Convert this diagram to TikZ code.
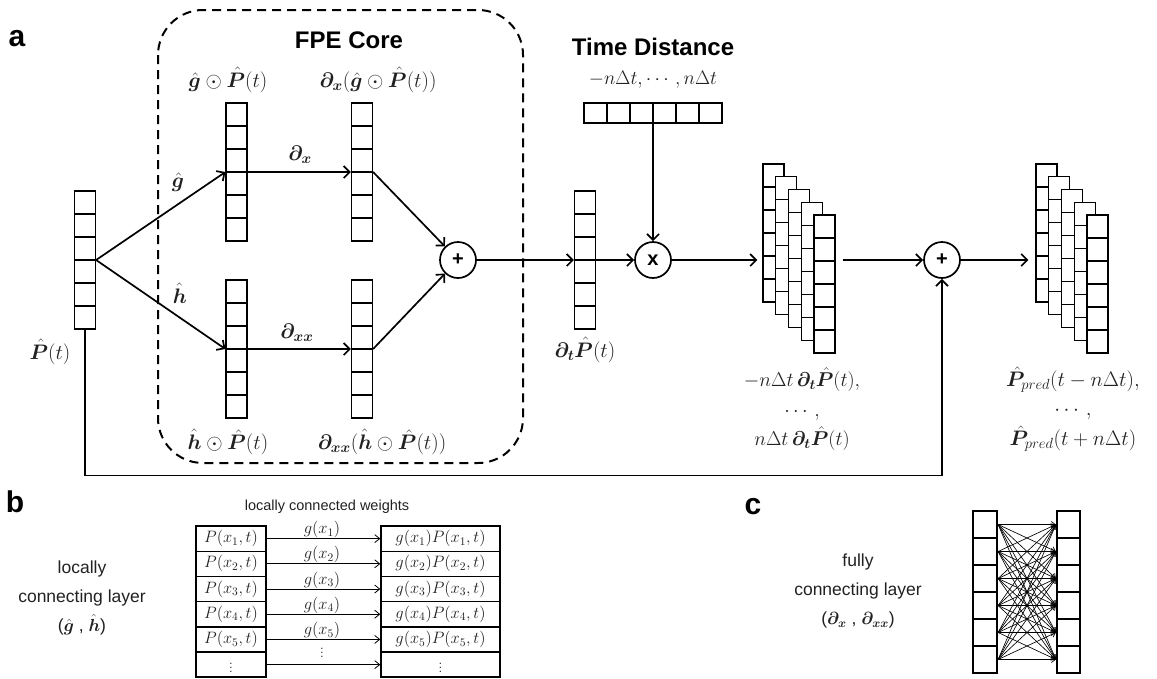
\RequirePackage{fix-cm}
\documentclass[tikz,border=0pt]{standalone}
\usepackage{amsmath,bm}
\usepackage{fontspec}
\setsansfont{Liberation Sans}
\usetikzlibrary{arrows.meta,calc}
\definecolor{txt}{gray}{0.13}
\tikzset{
  arr/.style={line width=1.7pt, -{Straight Barb[length=6pt,width=12pt,line width=1.7pt]}},
  vcol/.style={draw, line width=1.2pt, fill=white, minimum width=21pt, minimum height=138pt, inner sep=0pt,
    path picture={\foreach \i in {1,...,5}{\draw[line width=1.2pt] ([yshift=-\i*23pt]path picture bounding box.north west) -- ++(40pt,0pt);}}},
  hrow/.style={draw, line width=1.2pt, minimum width=138pt, minimum height=20pt, inner sep=0pt,
    path picture={\foreach \i in {1,...,5}{\draw[line width=1.2pt] ([xshift=\i*23pt]path picture bounding box.north west) -- ++(0pt,-40pt);}}},
  op/.style={circle, draw, line width=1.7pt, minimum size=36pt, inner sep=0pt, font=\sffamily\bfseries\fontsize{20}{20}\selectfont},
  lab/.style={font=\fontsize{21}{24}\selectfont, inner sep=0pt, text=txt},
  ttl/.style={font=\sffamily\bfseries\fontsize{24}{26}\selectfont, inner sep=0pt},
  pan/.style={font=\sffamily\bfseries\fontsize{30}{30}\selectfont, inner sep=0pt},
  stxt/.style={font=\sffamily\fontsize{17.5}{29}\selectfont, align=center, inner sep=0pt, text=txt},
  brow/.style={draw, line width=1.4pt, minimum height=25.2pt, inner sep=0pt, font=\fontsize{16.5}{18}\selectfont, text=txt},
  blab/.style={font=\fontsize{16.5}{18}\selectfont, inner sep=0pt, text=txt},
  warr/.style={line width=0.8pt, -{Straight Barb[length=5pt,width=8pt,line width=0.8pt]}},
  ccell/.style={draw, line width=2.2pt, minimum height=27pt, inner sep=0pt},
  fc/.style={line width=0.65pt, -{Straight Barb[length=4pt,width=6pt,line width=0.65pt]}},
}
\begin{document}
\begin{tikzpicture}[x=1pt,y=-1pt]
\useasboundingbox (0,0) rectangle (1157,678);
% ---------------- panel a
\node[pan] (la) at (17,39) {a};
\draw[line width=2pt, dash pattern=on 9pt off 6pt, rounded corners=45pt] (158,10) rectangle (523,463);
\node[ttl] (fpe) at (349,40) {FPE Core};
\node[ttl] (tdt) at (653,47) {Time Distance};

\node[vcol] (in) at (85,260) {};
\node[vcol] (g) at (236.5,172) {};
\node[vcol] (gx) at (362,172) {};
\node[vcol] (h) at (236.5,349) {};
\node[vcol] (hx) at (362,349) {};
\node[op] (p1) at (458,260) {+};
\node[vcol] (dt) at (585,260) {};
\node[op] (xc) at (653,260) {x};
\node[hrow] (td) at (653,113) {};
\foreach \k in {0,...,4}{\node[vcol] (sa\k) at ({773.5+12.75*\k},{233+12.75*\k}) {};}
\node[op] (p2) at (942,260) {+};
\foreach \k in {0,...,4}{\node[vcol] (sb\k) at ({1046.5+12.75*\k},{233+12.75*\k}) {};}

\node[lab] (lP) at (50,352) {$\bm{\hat P}(t)$};
\node[lab] (lg) at (178,182) {$\bm{\hat g}$};
\node[lab] (lh) at (180,293) {$\bm{\hat h}$};
\node[lab] (ldx) at (300,155) {$\bm{\partial_x}$};
\node[lab] (ldxx) at (297,333) {$\bm{\partial_{xx}}$};
\node[lab] (lgP) at (228,80) {$\bm{\hat g}\odot\bm{\hat P}(t)$};
\node[lab] (lgx) at (378,80) {$\bm{\partial_x}(\bm{\hat g}\odot\bm{\hat P}(t))$};
\node[lab] (lhP) at (228,442) {$\bm{\hat h}\odot\bm{\hat P}(t)$};
\node[lab] (lhx) at (382,442) {$\bm{\partial_{xx}}(\bm{\hat h}\odot\bm{\hat P}(t))$};
\node[lab, font=\fontsize{19.5}{22}\selectfont] (ltd) at (653,80) {$-n\Delta t,\cdots,n\Delta t$};
\node[lab] (ldt) at (585,350) {$\bm{\partial_t}\bm{\hat P}(t)$};
\node[lab, align=center, font=\fontsize{20}{29.5}\selectfont] (lsa) at (802,409)
  {$-n\Delta t\,\bm{\partial_t}\bm{\hat P}(t),$\\$\cdots,$\\$n\Delta t\,\bm{\partial_t}\bm{\hat P}(t)$};
\node[lab, align=center, font=\fontsize{21}{29.5}\selectfont] (lsb) at (1073,409)
  {$\bm{\hat P}_{pred}(t-n\Delta t),$\\$\cdots,$\\$\bm{\hat P}_{pred}(t+n\Delta t)$};

\draw[arr] (in.east) -- (g.west);
\draw[arr] (in.east) -- (h.west);
\draw[arr] (g.east) -- (gx.west);
\draw[arr] (h.east) -- (hx.west);
\draw[arr] (gx.east) -- (p1);
\draw[arr] (hx.east) -- (p1);
\draw[arr] (p1) -- (dt);
\draw[arr] (dt) -- (xc);
\draw[arr] (td) -- (xc);
\draw[arr, shorten >=5pt] (xc) -- (sa0.west |- xc);
\draw[arr, shorten <=7pt] (sa4.east |- p2) -- (p2);
\draw[arr, shorten >=7pt] (p2) -- (sb0.west |- p2);
\draw[arr] (in.south) -- ++(0,146) -| (p2.south);

% ---------------- panel b
\node[pan] (lb) at (15,502) {b};
\node[stxt] (tb) at (82,598) {locally\\connecting layer\\($\bm{\hat g}$ , $\bm{\hat h}$)};
\node[font=\sffamily\fontsize{14.5}{16}\selectfont, inner sep=0pt, text=txt] (lcw) at (327,507) {locally connected weights};
\foreach \i in {1,...,5}{
  \node[brow, minimum width=70pt] (L\i) at (231,{526+25.2*(\i-0.5)}) {$P(x_\i,t)$};
  \node[brow, minimum width=119pt] (R\i) at (440.5,{526+25.2*(\i-0.5)}) {$g(x_\i)P(x_\i,t)$};
  \draw[warr] (L\i) -- (R\i);
  \node[blab] (G\i) at (322,{526+25.2*(\i-0.5)-9}) {$g(x_\i)$};
}
\node[brow, minimum width=70pt] (L6) at (231,664.6) {$\vdots$};
\node[brow, minimum width=119pt] (R6) at (440.5,664.6) {$\vdots$};
\draw[warr] (L6) -- (R6);
\node[blab] (G6) at (322,650) {$\vdots$};
\draw[line width=2.5pt] (196,526) rectangle (266,677);
\draw[line width=2.5pt] (381,526) rectangle (500,677);

% ---------------- panel c
\node[pan] (lc) at (753,507) {c};
\node[stxt] (tc) at (858,591) {fully\\connecting layer\\($\bm{\partial_x}$ , $\bm{\partial_{xx}}$)};
\foreach \i in {1,...,6}{
  \node[ccell, minimum width=24pt] (cl\i) at (985,{511+27*(\i-0.5)}) {};
  \node[ccell, minimum width=23pt] (cr\i) at (1068.5,{511+27*(\i-0.5)}) {};
}
\foreach \i in {1,...,6}{\foreach \j in {1,...,6}{\draw[fc] (cl\i.east) -- (cr\j.west);}}
\end{tikzpicture}
\end{document}
